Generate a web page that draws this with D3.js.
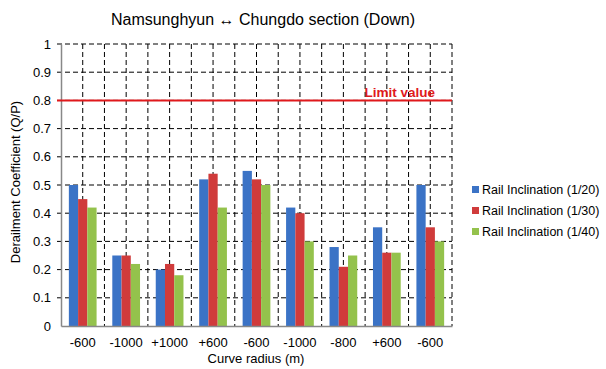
<!DOCTYPE html>
<html>
<head>
<meta charset="utf-8">
<script src="https://cdn.jsdelivr.net/npm/d3@7"></script>
<style>
  body { margin: 0; background: #fff; }
  text { font-family: "Liberation Sans", Arial, sans-serif; }
</style>
</head>
<body>
<div id="chart"></div>
<script>
// chart values
const categories = ["-600", "-1000", "+1000", "+600", "-600", "-1000", "-800", "+600", "-600"];
const seriesNames = ["Rail Inclination (1/20)", "Rail Inclination (1/30)", "Rail Inclination (1/40)"];
const incl20 = [0.50, 0.25, 0.20, 0.52, 0.55, 0.42, 0.28, 0.35, 0.50];
const incl30 = [0.45, 0.25, 0.22, 0.54, 0.52, 0.40, 0.21, 0.26, 0.35];
const incl40 = [0.42, 0.22, 0.18, 0.42, 0.50, 0.30, 0.25, 0.26, 0.30];
const yTicks = [0, 0.1, 0.2, 0.3, 0.4, 0.5, 0.6, 0.7, 0.8, 0.9, 1];
const limitValue = 0.8;

const colors = ["#3b73c6", "#d03b3b", "#94c24c"];

width = 606;
height = 369;
plot = { left: 61, right: 452, top: 44, bottom: 326 };

svg = d3.select("#chart")
  .append("svg")
    .attr("width", width)
    .attr("height", height);

// index based band so repeated labels stay separate
xScale = d3.scaleBand()
  .domain(d3.range(categories.length))
  .range([plot.left, plot.right])
  .padding(0);

xInner = d3.scaleBand()
  .domain(d3.range(seriesNames.length))
  .range([0, xScale.bandwidth()])
  .paddingInner(0)
  .paddingOuter(0.85);

yScale = d3.scaleLinear()
  .domain([0, 1])
  .range([plot.bottom, plot.top]);

// dashed grid, horizontal
svg.append("g")
  .selectAll("line")
  .data(yTicks.slice(1))
  .enter().append("line")
    .attr("x1", plot.left - 4)
    .attr("x2", plot.right)
    .attr("y1", d => yScale(d))
    .attr("y2", d => yScale(d))
    .attr("stroke", "#000")
    .attr("stroke-dasharray", "5,3");

// dashed grid, vertical: band edges and band centres
vlines = [];
categories.forEach((c, i) => {
  vlines.push(xScale(i) + xScale.bandwidth() / 2);
  vlines.push(xScale(i) + xScale.bandwidth());
});
svg.append("g")
  .selectAll("line")
  .data(vlines)
  .enter().append("line")
    .attr("x1", d => d)
    .attr("x2", d => d)
    .attr("y1", plot.top)
    .attr("y2", plot.bottom)
    .attr("stroke", "#000")
    .attr("stroke-dasharray", "5,3");

// bars
allSeries = [incl20, incl30, incl40];
groups = svg.append("g")
  .selectAll("g")
  .data(allSeries)
  .enter().append("g")
    .attr("fill", (d, i) => colors[i]);

groups.each(function(vals, s) {
  d3.select(this).selectAll("rect")
    .data(vals)
    .enter().append("rect")
      .attr("x", (d, i) => xScale(i) + xInner(s))
      .attr("y", d => yScale(d))
      .attr("width", xInner.bandwidth())
      .attr("height", d => yScale(0) - yScale(d));
});

// axes
yAxis = svg.append("g")
  .attr("transform", "translate(" + plot.left + ",0)")
  .call(d3.axisLeft(yScale).tickValues(yTicks).tickSize(0).tickPadding(10).tickFormat(d3.format("~g")));
yAxis.select(".domain").attr("stroke", "#888").attr("stroke-width", 1.5);
yAxis.selectAll("text").style("font-size", "13px").attr("fill", "#000");

xAxis = svg.append("g")
  .attr("transform", "translate(0," + plot.bottom + ")")
  .call(d3.axisBottom(xScale).tickSize(0).tickPadding(12).tickFormat(i => categories[i]));
xAxis.select(".domain").attr("stroke", "#888").attr("stroke-width", 1.5);
xAxis.selectAll("text").style("font-size", "13px").attr("fill", "#000");

// limit line
svg.append("line")
  .attr("x1", plot.left - 4)
  .attr("x2", plot.right)
  .attr("y1", yScale(limitValue))
  .attr("y2", yScale(limitValue))
  .attr("stroke", "#e0191c")
  .attr("stroke-width", 2);

svg.append("text")
  .attr("x", 435)
  .attr("y", yScale(limitValue) - 3)
  .style("text-anchor", "end")
  .style("font-size", "13.5px")
  .style("font-weight", "bold")
  .attr("fill", "#e0191c")
  .text("Limit value");

// titles
svg.append("text")
  .attr("x", 263)
  .attr("y", 25)
  .style("text-anchor", "middle")
  .style("font-size", "16px")
  .text("Namsunghyun \u2194 Chungdo section (Down)");

svg.append("text")
  .attr("x", 256)
  .attr("y", 363)
  .style("text-anchor", "middle")
  .style("font-size", "13px")
  .text("Curve radius (m)");

svg.append("text")
  .attr("transform", "rotate(-90)")
  .attr("x", -182)
  .attr("y", 20)
  .style("text-anchor", "middle")
  .style("font-size", "13px")
  .text("Derailment Coefficient (Q/P)");

// legend
legend = svg.append("g")
  .selectAll("g")
  .data(seriesNames)
  .enter().append("g")
    .attr("transform", (d, i) => "translate(472," + (189 + i * 21) + ")");

legend.append("rect")
  .attr("x", 0)
  .attr("y", -3)
  .attr("width", 7)
  .attr("height", 7)
  .attr("fill", (d, i) => colors[i]);

legend.append("text")
  .attr("x", 10)
  .attr("y", 5)
  .style("font-size", "12.5px")
  .text(d => d);
</script>
</body>
</html>
